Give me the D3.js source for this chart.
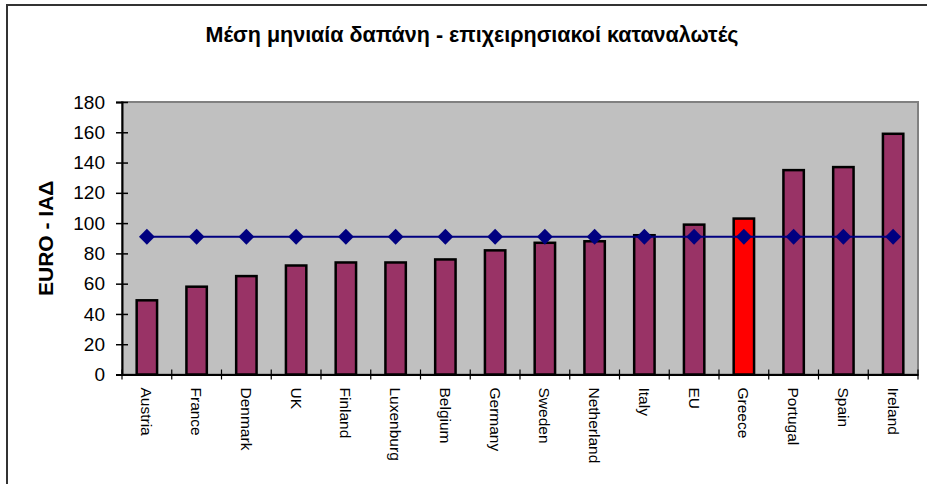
<!DOCTYPE html>
<html><head><meta charset="utf-8">
<script src="https://cdn.jsdelivr.net/npm/d3@7"></script>
<style>body{margin:0;background:#fff}svg{display:block}text{font-family:"Liberation Sans",Arial,sans-serif}</style>
</head><body>
<svg id="c" width="927" height="484"></svg>
<script>
const categories = ["Austria","France","Denmark","UK","Finland","Luxenburg","Belgium","Germany","Sweden","Netherland","Italy","EU","Greece","Portugal","Spain","Ireland"];
const spendValues = [49,58,65,72,74,74,76,82,87,88,92,99,103,135,137,159];
const averageValues = [91,91,91,91,91,91,91,91,91,91,91,91,91,91,91,91];
const yTicks = [0,20,40,60,80,100,120,140,160,180];
const highlight = "Greece";
const titleText = "Μέση μηνιαία δαπάνη - επιχειρησιακοί καταναλωτές";
const yLabel = "EURO - ΙΑΔ";

const svg = d3.select("#c");
const m = {l:122, r:918, t:102, b:374.5};

// outer frame (left & top edges visible)
svg.append("path").attr("d", `M7,484 V5 H927`).attr("fill","none").attr("stroke","#333").attr("stroke-width",2);

const x = d3.scaleBand().domain(categories).range([m.l, m.r]).paddingInner(0).paddingOuter(0);
const y = d3.scaleLinear().domain([0,180]).range([m.b, m.t]);

// plot area
svg.append("rect").attr("x",m.l).attr("y",m.t).attr("width",m.r-m.l).attr("height",m.b-m.t)
  .attr("fill","#C0C0C0").attr("stroke","#808080").attr("stroke-width",2);

// bars
const bw = x.bandwidth()*0.41;
svg.append("g").selectAll("rect").data(categories).join("rect")
  .attr("x", d => x(d) + x.bandwidth()/2 - bw/2)
  .attr("y", (d,i) => y(spendValues[i]))
  .attr("width", bw)
  .attr("height", (d,i) => y(0) - y(spendValues[i]))
  .attr("fill", d => d === highlight ? "#FF0000" : "#993366")
  .attr("stroke","#000").attr("stroke-width",2.5);

// y axis
const ya = svg.append("g").attr("transform",`translate(${m.l},0)`)
  .call(d3.axisLeft(y).tickValues(yTicks).tickSize(6).tickPadding(10));
ya.select(".domain").attr("stroke","#000").attr("stroke-width",2);
ya.selectAll(".tick line").attr("stroke","#000").attr("stroke-width",1.5).attr("x2",-6).attr("x1",6);
ya.selectAll(".tick text").attr("font-size",19).attr("fill","#000").attr("x",-17).attr("font-family",'"Liberation Sans",Arial,sans-serif');

// x axis
const xa = svg.append("g").attr("transform",`translate(0,${m.b})`)
  .call(d3.axisBottom(x).tickSize(0).tickPadding(0));
xa.select(".domain").attr("stroke","#000").attr("stroke-width",2);
xa.selectAll(".tick text").remove();
xa.selectAll(".tick line").remove();
// boundary ticks
const bounds = categories.map(d => x(d)).concat([m.r]);
xa.selectAll("line.bt").data(bounds).join("line").attr("class","bt")
  .attr("x1",d=>d).attr("x2",d=>d).attr("y1",-5).attr("y2",5).attr("stroke","#000").attr("stroke-width",1.2);
// labels
svg.append("g").selectAll("text").data(categories).join("text")
  .attr("transform", d => `translate(${x(d)+x.bandwidth()/2},${m.b+13}) rotate(90)`)
  .attr("dy","0.35em").attr("font-size",15.5).attr("fill","#000").text(d=>d);

// average line
const cx = d => x(d) + x.bandwidth()/2;
const line = d3.line().x((d,i)=>cx(categories[i])).y(d=>y(d));
svg.append("path").datum(averageValues).attr("d",line).attr("fill","none").attr("stroke","#000080").attr("stroke-width",2.2);
const diamond = d3.symbol().type(d3.symbolSquare).size(125);
svg.append("g").selectAll("path").data(averageValues).join("path")
  .attr("d", diamond())
  .attr("transform",(d,i)=>`translate(${cx(categories[i])},${y(d)}) rotate(45)`)
  .attr("fill","#000080");

// title
svg.append("text").attr("x",472).attr("y",42).attr("text-anchor","middle")
  .attr("font-size",21.5).attr("font-weight","bold").attr("fill","#000").text(titleText);

// y label
svg.append("text").attr("transform",`translate(53,${(m.t+m.b)/2}) rotate(-90)`)
  .attr("text-anchor","middle").attr("font-size",21).attr("font-weight","bold").attr("fill","#000").text(yLabel);
</script>
</body></html>
